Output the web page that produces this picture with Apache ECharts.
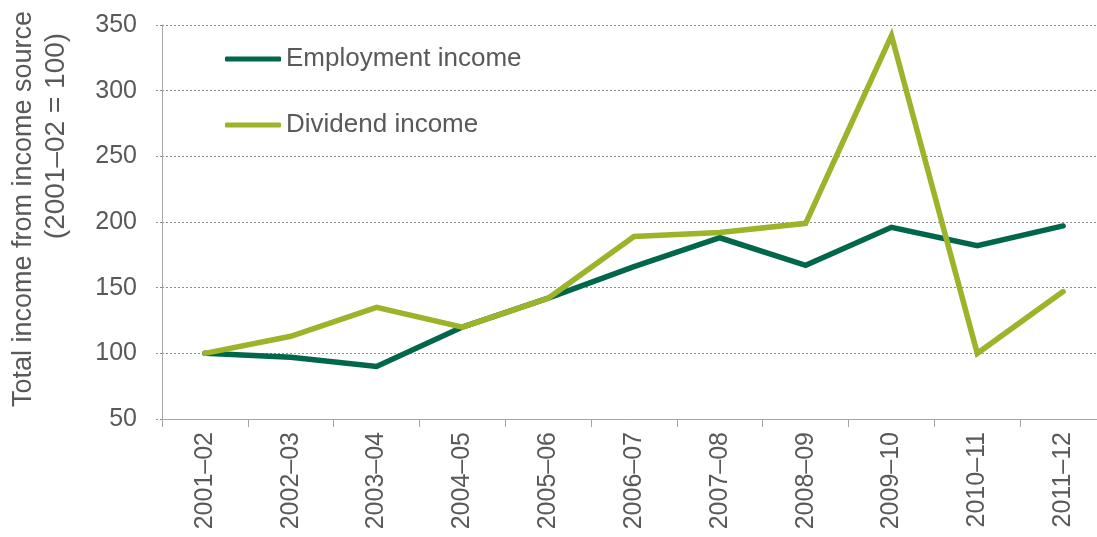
<!DOCTYPE html>
<html>
<head>
<meta charset="utf-8">
<script src="https://cdn.jsdelivr.net/npm/echarts@6/dist/echarts.min.js"></script>
<style>
html,body{margin:0;padding:0;background:#fff;}
#chart{width:1097px;height:537px;}
</style>
</head>
<body>
<div id="chart"></div>
<script>
const categories = ['2001–02','2002–03','2003–04','2004–05','2005–06','2006–07','2007–08','2008–09','2009–10','2010–11','2011–12'];
const employmentIncome = [100, 97, 90, 120, 142, 166, 188, 167, 196, 182, 197];
const dividendIncome = [100, 113, 135, 120, 142, 189, 192, 199, 342, 100, 147];
const yTicks = {min: 50, max: 350, interval: 50};
const axisTitle1 = 'Total income from income source';
const axisTitle2 = '(2001–02 = 100)';

const FONT = '"Liberation Sans", Arial, sans-serif';
const TXT = '#595959';
const chart = echarts.init(document.getElementById('chart'), null, {renderer: 'canvas'});
chart.setOption({
  backgroundColor: '#ffffff',
  animation: false,
  textStyle: {fontFamily: FONT, color: TXT},
  grid: {left: 162, top: 25, width: 944, height: 394, containLabel: false, outerBoundsMode: 'none'},
  legend: {
    orient: 'vertical', left: 220, top: 41,
    icon: 'roundRect',
    itemWidth: 56, itemHeight: 5, itemGap: 40,
    textStyle: {fontFamily: FONT, fontSize: 26, color: TXT},
    data: ['Employment income', 'Dividend income']
  },
  xAxis: {
    type: 'category', data: categories, boundaryGap: true,
    axisLine: {lineStyle: {color: '#a6a6a6', width: 1}},
    axisTick: {show: true, length: 8, lineStyle: {color: '#a6a6a6'}},
    axisLabel: {rotate: 90, margin: 13, fontSize: 25, color: TXT, fontFamily: FONT},
    splitLine: {show: false}
  },
  yAxis: {
    type: 'value', min: yTicks.min, max: yTicks.max, interval: yTicks.interval,
    axisLine: {show: true, lineStyle: {color: '#a6a6a6', width: 1}},
    axisTick: {show: true, length: 8, lineStyle: {color: '#8c8c8c', type: [2, 2]}},
    axisLabel: {margin: 25, fontSize: 25, color: TXT, fontFamily: FONT},
    splitLine: {show: true, lineStyle: {color: '#8c8c8c', type: [2, 2], width: 1}}
  },
  graphic: [
    {type: 'text', x: 24, y: 209, rotation: Math.PI / 2,
     style: {text: axisTitle1, font: '27px ' + FONT, fill: TXT, textAlign: 'center', textVerticalAlign: 'middle'}},
    {type: 'text', x: 56, y: 136, rotation: Math.PI / 2,
     style: {text: axisTitle2, font: '28px ' + FONT, fill: TXT, textAlign: 'center', textVerticalAlign: 'middle'}}
  ],
  series: [
    {name: 'Employment income', type: 'line', data: employmentIncome, symbol: 'none', z: 2,
     lineStyle: {color: '#00674a', width: 5.5, cap: 'round', join: 'miter'}, itemStyle: {color: '#00674a'}},
    {name: 'Dividend income', type: 'line', data: dividendIncome, symbol: 'none', z: 3,
     lineStyle: {color: '#9bb42a', width: 5.5, cap: 'round', join: 'miter'}, itemStyle: {color: '#9bb42a'}}
  ]
});
</script>
</body>
</html>
